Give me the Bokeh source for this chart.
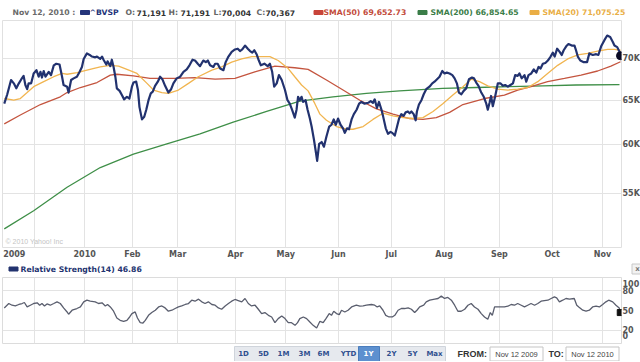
from bokeh.plotting import figure
from bokeh.layouts import column
from bokeh.models import Range1d, FixedTicker, Label, AllLabels
from bokeh.embed import file_html
from bokeh.resources import INLINE
from bokeh.core.properties import value

# ---------------- data (trading-day index since Nov 12 2009, values in thousands) -------------
price_day = [0, 1.2, 2.7, 3.8, 4.8, 5.8, 6.8, 7.7, 8.4, 9.1,
             9.7, 10.7, 11.7, 12.8, 13.7, 14.4, 15.0, 15.7, 16.4, 17.7,
             18.6, 19.7, 20.7, 22.0, 23.0, 23.6, 25.0, 25.6, 26.6, 27.6,
             28.9, 30.0, 30.9, 31.6, 32.9, 34.0, 34.9, 36.2, 36.9, 38.2,
             38.9, 39.5, 40.6, 41.1, 42.2, 42.8, 43.5, 44.2, 44.8, 45.9,
             46.8, 47.7, 48.8, 49.8, 50.8, 51.4, 52.5, 53.2, 53.8, 54.8,
             55.7, 56.5, 57.4, 58.3, 59.1, 60.0,
             61.1, 62.0, 62.9, 64.0, 65.3, 66.4, 67.3, 68.6, 70.0, 71.3,
             72.6, 73.7, 74.9, 75.9, 77.0, 77.9, 79.2, 80.2, 81.0, 81.9,
             83.2, 83.9, 84.9, 85.9, 87.2, 88.1, 89.2, 90.5, 91.8, 92.9,
             93.8, 94.7, 95.8, 96.9, 97.8, 98.7, 99.5, 100.4, 101.3, 102.1,
             103.5, 104.8, 105.7, 106.6, 107.4, 108.4, 109.3, 110.4, 111.7, 112.7,
             113.6, 114.5, 115.6, 116.3, 116.9, 117.6, 118.3, 118.9, 119.9, 120.7, 121.6,
             122.3, 123.2, 124.0, 124.5, 125.3, 126.3, 127.2, 128.2, 129.3, 130.2,
             131.1, 131.9, 132.8, 133.8, 134.8, 135.5, 136.4, 137.2, 138.2, 139.1,
             140.2, 141.2, 142.1, 143.4, 144.8, 145.8, 146.7, 147.4, 148.3, 149.1,
             150.1, 150.7, 151.8, 152.7, 153.7, 154.4, 155.4, 156.3, 157.1, 158.0,
             158.9, 159.7, 160.6, 161.3, 162.0, 162.9, 163.7, 164.2, 165.0, 166.0,
             166.9, 167.9, 169.2, 170.3, 171.2, 172.2, 173.2, 174.3, 175.2, 176.1,
             177.2, 178.3, 179.2, 180.1, 180.9, 181.9, 182.8, 183.8, 184.9,
             186.1, 186.9, 187.8, 188.7, 189.8, 190.8, 191.8, 192.4, 193.1, 193.7,
             194.4, 195.3, 196.4, 197.4, 198.4, 199.3, 200.4, 201.4, 202.4, 203.3,
             204.3, 205.0, 205.9, 207.0, 207.7, 208.6, 209.7, 210.7, 211.7, 212.6,
             213.4, 214.3, 215.3, 216.3, 217.4, 218.3, 219.0, 220.0, 221.0, 221.8,
             222.6, 223.6, 224.5, 225.8, 226.9, 227.5, 228.2, 229.2, 230.6, 231.9,
             232.8, 234.2, 235.5, 236.4, 237.5, 238.8, 239.9, 241.1, 242.1, 242.8,
             243.9, 244.8, 245.2]
price_val = [64.6, 65.7, 67.4, 67.0, 66.4, 67.0, 67.5, 67.9, 66.8, 66.3,
             67.0, 67.0, 68.2, 68.6, 67.8, 68.4, 67.7, 68.5, 67.8, 68.4,
             68.0, 69.2, 69.4, 69.3, 67.8, 66.8, 66.6, 65.9, 67.4, 67.6,
             67.8, 68.4, 69.0, 70.0, 70.7, 70.5, 70.3, 70.2, 70.3, 70.0,
             70.3, 69.9, 69.3, 69.7, 69.1, 69.9, 69.0, 67.8, 66.4, 66.1,
             65.6, 65.1, 65.4, 65.2, 66.6, 67.1, 67.2, 66.2, 64.2, 62.8,
             63.1, 63.9, 65.0, 65.8, 66.0, 66.7,
             67.2, 67.8, 67.5, 66.7, 65.9, 66.3, 67.0, 67.6, 67.8, 68.4,
             68.7, 69.2, 69.9, 69.8, 69.4, 69.1, 69.8, 69.6, 69.8, 69.2,
             69.0, 69.4, 69.4, 68.8, 68.6, 69.6, 70.3, 70.9, 71.2, 71.3,
             71.0, 71.2, 71.7, 71.3, 71.0, 70.8, 71.1, 70.6, 69.8, 69.2,
             69.4, 69.1, 69.4, 68.4, 66.6, 67.0, 68.0, 67.4, 66.2, 65.0,
             64.6, 63.9, 63.0, 63.9, 65.4, 65.0, 65.4, 64.8, 65.0, 63.9, 62.9,
             62.0, 60.6, 59.2, 58.3, 60.1, 60.3, 59.8, 60.9, 62.0, 62.2,
             62.8, 62.2, 62.9, 62.2, 61.8, 61.3, 61.8, 61.7, 62.8, 63.4,
             63.9, 64.6, 64.8, 64.6, 64.7, 64.9, 64.7, 65.1, 64.1, 64.8,
             63.9, 63.2, 61.8, 61.2, 61.4, 61.3, 61.0, 62.0, 62.9, 63.4,
             63.2, 63.6, 63.7, 63.5, 63.7, 63.4, 62.7, 63.7, 64.5, 65.0,
             65.7, 66.3, 66.6, 67.0, 67.2, 67.5, 67.8, 68.5, 68.2, 68.3,
             68.2, 68.0, 67.6, 67.0, 65.9, 65.7, 66.1, 66.4, 67.5,
             67.7, 67.6, 67.1, 66.7, 65.9, 65.4, 64.6, 63.9, 64.7, 65.5,
             64.3, 65.4, 67.0, 67.0, 66.7, 66.8, 66.6, 66.8, 67.0, 68.0,
             67.9, 68.2, 67.6, 68.0, 67.2, 68.0, 68.2, 68.7, 68.3, 69.0,
             68.8, 69.4, 69.5, 69.8, 70.3, 70.8, 70.3, 71.3, 70.9, 70.5,
             71.1, 71.6, 71.9, 71.7, 71.7, 71.1, 70.3, 69.8, 69.6, 69.6,
             70.7, 70.5, 70.6, 70.5, 71.6, 72.4, 73.0, 72.8, 72.2, 71.7,
             71.5, 70.9, 70.4]

sma20_day = [0, 3.8, 6.4, 9.1, 11.7, 15.7, 19.7, 23.0, 25.0, 29.0,
             32.9, 38.2, 42.2, 45.5, 48.8, 52.8, 56.8, 59.4, 62.7, 65.3,
             69.3, 73.3, 77.2, 82.6, 86.5, 90.5, 94.5, 98.5, 102.4, 105.7,
             109.0, 113.0, 115.6, 118.3, 120.9, 123.6, 125.6, 128.2, 132.2, 136.2,
             138.8, 142.8, 146.7, 150.7, 154.7, 158.7, 162.6, 166.6, 170.6, 174.5,
             178.5, 182.5, 185.8, 189.1, 192.4, 196.4, 200.4, 204.3, 208.3, 212.3,
             216.2, 220.2, 224.2, 228.2, 232.1, 236.1, 240.1, 242.8, 245.2]
sma20_val = [65.2, 65.0, 65.2, 65.9, 66.6, 67.2, 67.8, 68.2, 68.1, 68.3,
             68.6, 69.0, 69.2, 69.1, 68.7, 68.2, 67.0, 66.2, 65.9, 65.8,
             66.2, 67.0, 67.8, 68.6, 69.0, 69.6, 70.0, 70.3, 70.3, 70.3,
             69.8, 68.8, 67.8, 66.8, 66.1, 64.6, 63.4, 62.7, 62.0, 61.7,
             61.7, 62.0, 62.8, 63.5, 63.2, 63.0, 62.9, 63.0, 63.7, 64.6,
             65.6, 66.6, 67.5, 67.2, 66.7, 66.3, 66.2, 66.3, 66.5, 67.2,
             68.2, 69.2, 70.0, 70.5, 70.7, 71.0, 71.2, 71.2, 71.1]

sma50_day = [0, 6.4, 14.4, 22.3, 25.0, 30.3, 36.9, 42.2, 44.8, 51.4, 58.0,
             68.0, 75.9, 83.9, 91.8, 99.7, 107.7, 115.6, 120.9, 128.2, 134.8,
             141.5, 148.1, 154.7, 161.3, 166.6, 171.9, 177.2, 182.5, 191.1, 199.0,
             204.3, 209.6, 216.2, 222.9, 229.5, 236.1, 241.4, 245.2]
sma50_val = [62.3, 63.3, 64.5, 65.4, 65.9, 66.5, 67.1, 68.0, 68.1, 67.9, 67.6,
             67.6, 67.7, 67.5, 67.6, 68.4, 69.1, 68.9, 68.7, 67.4, 66.2,
             65.0, 64.0, 63.4, 62.9, 62.8, 63.0, 63.6, 64.5, 65.2, 65.6,
             66.2, 66.6, 67.2, 67.6, 68.0, 68.5, 69.1, 69.65]

sma200_day = [0, 11.7, 25.0, 38.2, 51.4, 64.7, 77.9, 91.1, 104.4, 117.6,
              130.8, 144.1, 157.3, 174.5, 187.8, 201.0, 214.3, 227.5, 244.8]
sma200_val = [51.6, 53.3, 55.6, 57.6, 59.0, 60.1, 61.2, 62.5, 63.7, 64.9,
              65.4, 65.8, 66.1, 66.4, 66.5, 66.6, 66.7, 66.8, 66.85]

rsi_day = [0, 1.8, 3.1, 4.4, 5.8, 7.1, 8.0, 9.1, 10.4, 11.7,
           13.1, 14.1, 15.0, 16.0, 17.0, 18.3, 19.7, 21.0, 22.3, 23.6,
           25.0, 25.6, 27.0, 28.9, 30.3, 31.6, 32.9, 34.2, 36.2, 37.5,
           38.9, 40.2, 41.1, 42.2, 43.5, 44.8, 46.1, 47.5, 48.8, 49.9,
           50.8, 52.1, 53.0, 54.1, 55.2, 56.1, 57.4, 58.7, 60.1, 61.4,
           62.7, 64.0, 65.3, 66.7, 68.0, 69.3, 70.6, 72.0, 73.3, 74.6,
           75.9, 77.3, 78.6, 79.9, 81.2, 82.6, 83.9, 85.2, 86.5, 87.9,
           89.2, 90.5, 91.8, 93.1, 94.5, 95.8, 97.1, 98.4, 99.8, 101.1,
           102.4, 103.7, 105.1, 106.4, 107.7, 109.0, 110.4, 111.7, 113.0, 114.3,
           115.7, 116.7, 117.6, 119.0, 120.3, 121.6, 122.9, 124.3, 125.6,
           126.9, 128.0, 129.3, 130.2, 131.1, 132.2, 133.3, 134.2, 135.5, 136.8,
           138.2, 140.1, 141.5, 142.8, 144.1, 146.1, 147.4, 148.4, 149.4, 150.7,
           151.8, 153.1, 154.4, 155.4, 156.7, 158.0, 159.3, 160.7, 162.0, 163.3,
           164.2, 165.3, 166.9, 167.9, 169.3, 171.3, 172.6, 173.9, 175.2, 176.5,
           177.9, 179.2, 180.5, 181.8, 183.2, 184.5, 185.8, 187.1, 188.5, 189.8,
           191.1, 192.4, 193.4, 194.2, 195.1, 196.4, 197.7, 199.0, 200.4, 201.7,
           203.0, 204.3, 205.7, 207.0, 208.3, 209.6, 211.0, 212.3, 213.6, 214.9,
           216.3, 217.6, 218.9, 219.8, 220.9, 222.2, 223.5, 224.9, 226.8, 227.8,
           228.6, 230.2, 231.5, 232.8, 234.1, 235.5, 236.8, 238.1, 239.4, 240.5,
           242.1, 243.4, 244.7, 245.1]
rsi_val = [53.9, 60.6, 58.0, 56.9, 59.1, 60.6, 62.1, 55.4, 58.0, 60.6,
           61.6, 58.0, 60.6, 56.9, 60.0, 58.0, 60.6, 63.1, 60.6, 53.9,
           47.8, 44.3, 50.4, 53.0, 55.4, 63.1, 65.6, 64.1, 63.1, 60.6,
           61.6, 56.9, 59.1, 55.4, 48.9, 38.6, 35.1, 33.6, 35.1, 40.2,
           45.3, 47.8, 38.6, 31.6, 31.0, 35.1, 42.7, 46.9, 50.4, 55.4,
           56.9, 53.9, 48.9, 50.4, 53.0, 55.4, 56.9, 59.1, 60.6, 65.6,
           64.1, 67.2, 63.1, 60.6, 63.1, 59.1, 58.0, 53.9, 51.9, 56.9,
           60.6, 64.1, 66.7, 65.1, 63.1, 68.2, 60.6, 56.9, 58.0, 51.9,
           45.3, 46.9, 42.7, 40.2, 31.6, 37.7, 41.7, 37.7, 31.6, 31.6,
           27.5, 31.6, 37.7, 40.2, 37.7, 32.5, 27.5, 23.4, 33.6,
           31.6, 37.7, 45.3, 42.7, 48.9, 45.3, 43.8, 50.4, 47.8, 50.4,
           55.4, 58.0, 56.5, 56.9, 58.0, 59.1, 58.0, 55.4, 56.9, 50.4,
           42.7, 40.2, 40.2, 42.7, 50.4, 53.0, 53.0, 53.9, 51.9, 46.9,
           50.4, 55.4, 58.0, 63.1, 65.6, 67.2, 68.2, 71.8, 68.2, 69.8,
           65.6, 58.0, 48.9, 48.9, 51.9, 58.0, 60.6, 55.4, 51.9, 45.3,
           40.2, 36.6, 46.9, 42.7, 55.4, 55.4, 55.4, 55.4, 56.5, 59.1,
           58.0, 60.6, 58.0, 55.4, 58.0, 60.6, 58.0, 60.6, 64.1, 65.1,
           65.6, 68.2, 70.7, 69.2, 63.1, 65.6, 68.2, 67.2, 68.2, 58.0,
           55.4, 50.4, 48.9, 50.4, 55.4, 56.5, 55.4, 59.1, 63.1, 65.6,
           63.1, 58.0, 53.9, 46.86]

month_grid_days = [12, 32, 51, 69, 92, 112, 133, 154, 175, 197, 218, 238]
month_tick_days = [4, 32, 51, 69, 92, 112, 133, 154, 175, 197, 218, 238]
month_labels = ["2009", "2010", "Feb", "Mar", "Apr", "May", "Jun", "Jul", "Aug", "Sep", "Oct", "Nov"]
price_ticks = [55, 60, 65, 70]
price_labels = ["55K", "60K", "65K", "70K"]
rsi_grid = [20, 80]
rsi_ticks = [12, 21, 50, 80, 91]
rsi_labels = ["0", "20", "50", "80", "100"]

hdr_text = ["Nov 12, 2010 :", "^BVSP", "O:", "71,191", "H:", "71,191", "L:", "70,004",
            "C:", "70,367", "SMA(50) 69,652.73", "SMA(200) 66,854.65", "SMA(20) 71,075.25"]
hdr_x = [10, 87, 123, 134, 166, 178, 211, 219, 254, 263, 321, 428, 540]
hdr_col = ["#6a6a6a", "#25357a", "#666666", "#333333", "#666666", "#333333", "#666666", "#333333",
           "#666666", "#333333", "#c24a3a", "#3a7d48", "#e9ae45"]
hdr_sq_x = [82.5, 316, 420, 532]
hdr_sq_col = ["#25357a", "#c8443a", "#3a7d48", "#eaae45"]

btn_text = ["1D", "5D", "1M", "3M", "6M", "YTD", "1Y", "2Y", "5Y", "Max"]
btn_x = [241, 261, 281, 302, 321, 346, 366, 389, 410, 432]
btn_col = ["#2f4f8f"] * 6 + ["#ffffff"] + ["#2f4f8f"] * 3

# ---------------- styling constants -------------
NAVY = "#22326f"
FONT = "DejaVu Sans"
GRID = "#e3e3e3"


def text_fig(h, y0, y1):
    f = figure(frame_width=640, frame_height=h, x_range=Range1d(0, 640), y_range=Range1d(y1, y0),
               x_axis_location=None, y_axis_location=None, min_border=0,
               output_backend="svg", toolbar_location=None)
    f.grid.visible = False
    f.outline_line_color = None
    return f


def style_axis(ax):
    ax.axis_line_color = None
    ax.major_tick_line_color = None
    ax.minor_tick_line_color = None
    ax.major_tick_out = 0
    ax.major_tick_in = 0
    ax.minor_tick_out = 0
    ax.minor_tick_in = 0
    ax.major_label_text_font = FONT
    ax.major_label_text_font_style = "bold"
    ax.major_label_text_font_size = "8px"
    ax.major_label_text_color = "#555555"
    ax.major_label_standoff = 1
    ax.major_label_policy = AllLabels()


# ---------------- header -------------
hdr = text_fig(20, 0, 20)
hdr.rect(x=hdr_sq_x, y=12, width=9, height=4, color=hdr_sq_col)
hdr.text(x=hdr_x, y=12, text=hdr_text, text_color=hdr_col, text_font=value(FONT),
         text_font_style="bold", text_font_size="7.7px", text_baseline="middle", text_align="left")

# ---------------- main price chart -------------
xr = Range1d(-0.7, 245.6)
main = figure(frame_width=619, frame_height=227, min_border_left=2, min_border_right=19,
              min_border_top=0, min_border_bottom=15, x_range=xr, y_range=Range1d(49.9, 75.0),
              y_axis_type="log", y_axis_location="right",
              output_backend="svg", toolbar_location=None)
main.outline_line_color = "#e0e0e0"
main.xaxis.ticker = FixedTicker(ticks=month_tick_days)
main.xaxis.major_label_overrides = dict(zip(month_tick_days, month_labels))
main.yaxis.ticker = FixedTicker(ticks=price_ticks)
main.yaxis.major_label_overrides = dict(zip(price_ticks, price_labels))
style_axis(main.xaxis[0])
style_axis(main.yaxis[0])
main.xaxis.major_label_standoff = 2
main.xgrid.ticker = FixedTicker(ticks=month_grid_days)
main.grid.grid_line_color = GRID
main.grid.grid_line_width = 1

main.line(sma200_day, sma200_val, color="#3f8f48", line_width=1.3)
main.line(sma50_day, sma50_val, color="#c4553f", line_width=1.3)
main.line(sma20_day, sma20_val, color="#f1b550", line_width=1.3)
main.line(price_day, price_val, color=NAVY, line_width=2.2, line_join="round")
main.scatter([price_day[-1]], [price_val[-1]], size=8, color="#0a0a24")
main.add_layout(Label(x=3, y=3, x_units="screen", y_units="screen", text="\u00a9 2010 Yahoo! Inc",
                      text_font="Liberation Sans", text_font_size="7px", text_color="#c4c4c4"))

# ---------------- RSI header -------------
rh = text_fig(15, 262, 277)
rh.rect(x=[11], y=[268.5], width=9, height=4, color=NAVY)
rh.text(x=[18], y=[268.5], text=["Relative Strength(14) 46.86"], text_color=NAVY,
        text_font=value(FONT), text_font_style="bold", text_font_size="7.7px",
        text_baseline="middle", text_align="left")
rh.rect(x=[635], y=[268.5], width=11, height=10, fill_color="#f2f2f2", line_color="#c8c8c8")
rh.text(x=[635], y=[268.5], text=["x"], text_color="#777777", text_font=value(FONT),
        text_font_style="bold", text_font_size="7px", text_baseline="middle", text_align="center")

# ---------------- RSI panel -------------
rsi = figure(frame_width=619, frame_height=66, min_border_left=2, min_border_right=19,
             min_border_top=0, min_border_bottom=2, x_range=xr, y_range=Range1d(0, 100),
             x_axis_location=None, y_axis_location="right",
             output_backend="svg", toolbar_location=None)
rsi.outline_line_color = "#dcdcdc"
ay = rsi.yaxis[0]
ay.ticker = FixedTicker(ticks=rsi_ticks)
ay.major_label_overrides = dict(zip(rsi_ticks, rsi_labels))
style_axis(ay)
rsi.xgrid.ticker = FixedTicker(ticks=month_grid_days)
rsi.ygrid.ticker = FixedTicker(ticks=rsi_grid)
rsi.grid.grid_line_color = GRID
rsi.line(rsi_day, rsi_val, color="#5a5e6e", line_width=1.3)
rsi.scatter([rsi_day[-1]], [rsi_val[-1]], marker="square", size=6, color="#111111")

# ---------------- bottom controls -------------
bt = text_fig(16, 345, 361)
bt.rect(x=[337.5], y=[353.5], width=211, height=15, fill_color="#e6e9ee", line_color="#cfd4db")
bt.rect(x=[366.5], y=[353.5], width=21, height=15, fill_color="#5d90cf", line_color="#4a7dbd")
bt.text(x=btn_x, y=353.5, text=btn_text, text_color=btn_col, text_font=value(FONT),
        text_font_style="bold", text_font_size="7px", text_baseline="middle", text_align="center")
bt.text(x=[455, 546], y=353.5, text=["FROM:", "TO:"], text_color="#333333",
        text_font=value("Liberation Sans"), text_font_style="bold", text_font_size="9px",
        text_baseline="middle", text_align="left")
bt.rect(x=[514, 590], y=353.5, width=53, height=14, fill_color="white", line_color="#c5c5c5")
bt.text(x=[514, 590], y=353.5, text=["Nov 12 2009", "Nov 12 2010"], text_color="#444444",
        text_font=value("Liberation Sans"), text_font_size="7.5px",
        text_baseline="middle", text_align="center")

layout = column(hdr, main, rh, rsi, bt, spacing=0)
open("out.html", "w").write(file_html(layout, INLINE))
